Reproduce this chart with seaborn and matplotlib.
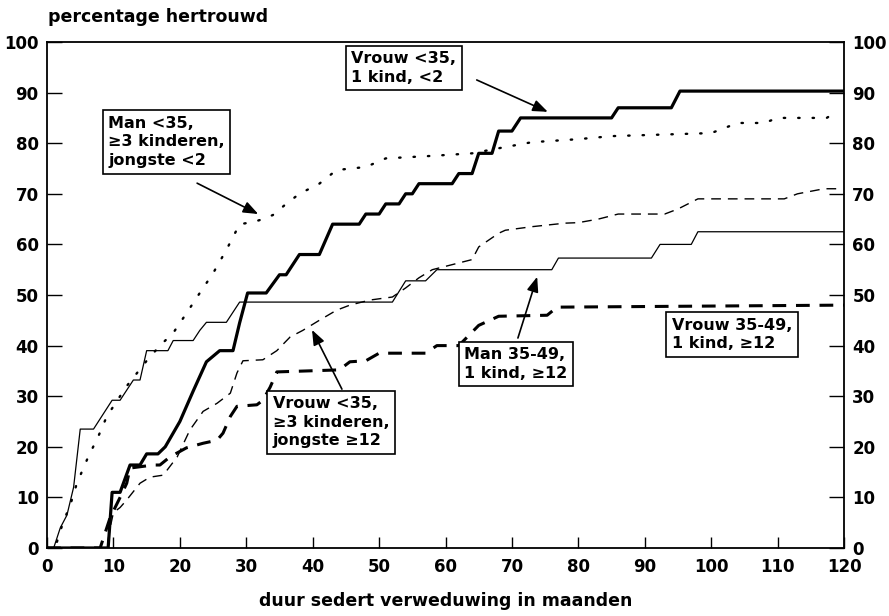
import matplotlib
matplotlib.use("Agg")
import matplotlib.pyplot as plt
import seaborn as sns
import pandas as pd

# Kaplan-Meier style remarriage curves (months since widowhood, % remarried)
vrouw_jong_1kind_x = [0, 9.2, 9.8, 11, 12.5, 14, 15, 16.7, 17.8, 20, 22, 24, 26, 28, 29, 30.2,
                      33, 35, 36, 38, 41, 43, 47, 48, 50, 51, 53, 54, 55, 56, 61, 62, 64, 65,
                      67, 68, 70, 71.3, 85, 86, 94, 95.3, 120]
vrouw_jong_1kind_y = [0, 0, 11, 11, 16.4, 16.4, 18.6, 18.6, 20, 25, 31, 36.8, 39, 39, 44.5, 50.4,
                      50.4, 54, 54, 58, 58, 64, 64, 66, 66, 68, 68, 70, 70, 72, 72, 74, 74, 78,
                      78, 82.4, 82.4, 85, 85, 87, 87, 90.3, 90.3]

man_jong_3kind_x = [0, 1.2, 2.4, 3.5, 4.5, 6.2, 7.7, 9, 10.5, 12, 13.5, 15, 17, 19, 21, 23, 25,
                    27, 29, 31, 32, 34, 36, 38, 41, 43.6, 48, 51, 58, 64, 68, 73, 80, 85, 100,
                    102, 104, 108, 110, 117.4, 118.6]
man_jong_3kind_y = [0, 0, 5, 8.5, 12.8, 18, 22, 26, 29, 32, 34.5, 37, 40, 42.5, 46.4, 50.4, 54.3,
                    58.9, 64, 64.4, 64.8, 65.8, 68, 70, 72, 74.7, 75.3, 77, 77.5, 78, 79, 80.2,
                    80.8, 81.4, 82, 83, 84, 84, 85, 85, 86]

man_oud_1kind_x = [0, 1, 2, 3, 4, 5, 7, 9.8, 11, 13, 14, 15, 18.2, 19, 22, 23, 24, 27, 29, 52,
                   54, 57, 58.7, 76, 77, 91, 92.3, 97, 98, 120]
man_oud_1kind_y = [0, 0, 4, 6.5, 12, 23.5, 23.5, 29.2, 29.2, 33.2, 33.2, 39, 39, 41, 41, 43,
                   44.6, 44.6, 48.6, 48.6, 52.8, 52.8, 55, 55, 57.3, 57.3, 60, 60, 62.5, 62.5]

vrouw_jong_3kind_x = [0, 9, 9.5, 10, 11, 12, 14, 15.5, 17.5, 19.6, 21.5, 23.5, 25.6, 27.6, 28.6,
                      29.5, 32.5, 34.6, 36.6, 38.5, 41, 43.6, 45.6, 48.6, 52, 54, 56, 58, 61,
                      64, 65, 68, 69, 73, 78, 80, 83, 86, 93, 95, 98, 111, 113, 117, 119]
vrouw_jong_3kind_y = [0, 0, 4, 7, 8, 9.5, 12.8, 14, 14.4, 18, 23.3, 27, 28.6, 30.6, 34.6,
                      37, 37.2, 39, 41.7, 43, 45, 47, 48, 49, 49.6, 51.4, 53.4, 55, 56,
                      57, 59.5, 62.2, 62.8, 63.5, 64.2, 64.3, 65, 66, 66, 67, 69, 69, 70, 71, 71]

vrouw_oud_1kind_x = [0, 8, 8.5, 9.5, 11, 12, 12.5, 16, 17, 18.5, 21, 23.5, 25.6, 26.5, 27.6,
                     28.6, 31.6, 32.5, 33.6, 34.6, 44, 45.6, 48, 50, 57, 58.7, 62, 65, 68,
                     75.3, 76.8, 120]
vrouw_oud_1kind_y = [0, 0, 2, 6, 10, 12.8, 15.8, 16.4, 16.4, 18, 19.8, 20.7, 21.3, 22.7, 26,
                     28, 28.3, 29.2, 31.8, 34.8, 35.2, 36.8, 37, 38.5, 38.5, 40, 40, 44, 45.8,
                     46, 47.6, 48]

xticks = list(range(0, 121, 10))
yticks = list(range(0, 101, 10))

sns.set_style("ticks", {"xtick.direction": "in", "ytick.direction": "in",
                        "text.color": "black", "axes.labelcolor": "black",
                        "xtick.color": "black", "ytick.color": "black",
                        "axes.edgecolor": "black"})
plt.rcParams["font.family"] = ["DejaVu Sans"]
plt.rcParams["font.weight"] = "bold"

fig = plt.figure(figsize=(8.89, 6.16), dpi=100)
ax = fig.add_axes([0.0529, 0.1104, 0.8965, 0.8214])

series = [
    (vrouw_jong_1kind_x, vrouw_jong_1kind_y, dict(lw=2.3, linestyle="-")),
    (man_jong_3kind_x, man_jong_3kind_y, dict(lw=1.7, linestyle=(0, (0.6, 5.5)),
                                              dash_capstyle="round")),
    (man_oud_1kind_x, man_oud_1kind_y, dict(lw=0.9, linestyle="-")),
    (vrouw_jong_3kind_x, vrouw_jong_3kind_y, dict(lw=1.0, linestyle=(0, (7, 5)))),
    (vrouw_oud_1kind_x, vrouw_oud_1kind_y, dict(lw=2.2, linestyle=(0, (4.5, 3.2)))),
]
for xs, ys, style in series:
    df = pd.DataFrame({"maanden": xs, "pct": ys})
    sns.lineplot(data=df, x="maanden", y="pct", sort=False, estimator=None,
                 color="black", ax=ax, **style)

ax.set_xlim(0, 120)
ax.set_ylim(0, 100)
ax.set_xticks(xticks)
ax.set_yticks(yticks)
ax.tick_params(axis="both", which="both", direction="in", width=1.0, colors="black",
               labelsize=12)
ax.tick_params(axis="y", length=11, left=True, right=True, labelleft=True, labelright=True,
               pad=6)
ax.tick_params(axis="x", length=8, top=False, pad=7)
for lab in ax.get_xticklabels() + ax.get_yticklabels():
    lab.set_fontweight("bold")
for sp in ax.spines.values():
    sp.set_visible(True)
    sp.set_linewidth(1.3)
    sp.set_color("black")

ax.set_xlabel("duur sedert verweduwing in maanden", fontsize=12.5, fontweight="bold",
              labelpad=12, color="black")
ax.set_ylabel("")
fig.text(0.054, 0.972, "percentage hertrouwd", fontsize=12.5, fontweight="bold",
         ha="left", va="center", color="black")

box = dict(boxstyle="square,pad=0.35", facecolor="white", edgecolor="black", lw=1.2)
labels = [
    ("Vrouw <35,\n1 kind, <2", 45.8, 98.2),
    ("Man <35,\n≥3 kinderen,\njongste <2", 9.2, 85.4),
    ("Vrouw <35,\n≥3 kinderen,\njongste ≥12", 34.0, 30.0),
    ("Man 35-49,\n1 kind, ≥12", 62.8, 39.7),
    ("Vrouw 35-49,\n1 kind, ≥12", 94.1, 45.5),
]
for txt, x, y in labels:
    ax.text(x, y, txt, fontsize=11.5, fontweight="bold", ha="left", va="top",
            linespacing=1.3, bbox=box, zorder=5, color="black")

arrows = [
    ((75.4, 86.2), (64.7, 92.5)),
    ((31.8, 66.0), (22.6, 72.1)),
    ((39.9, 43.1), (44.4, 31.4)),
    ((73.8, 53.6), (70.9, 41.5)),
]
for head, tail in arrows:
    ax.annotate("", xy=head, xytext=tail,
                arrowprops=dict(arrowstyle="-|>,head_length=0.9,head_width=0.35",
                                color="black", lw=1.2, shrinkA=0, shrinkB=0),
                zorder=4)

fig.savefig("out.png", dpi=100, facecolor="white")
